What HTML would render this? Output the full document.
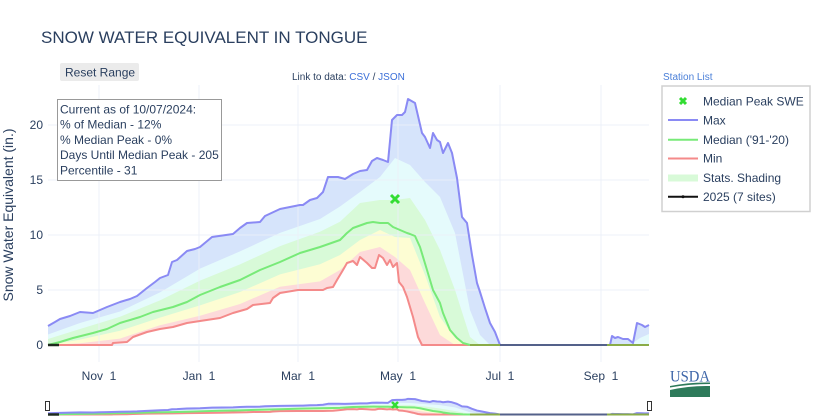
<!DOCTYPE html>
<html><head><meta charset="utf-8"><style>
html,body{margin:0;padding:0;background:#fff;}
svg{display:block;font-family:"Liberation Sans",Arial,sans-serif;}
</style></head><body>
<svg width="816" height="420" viewBox="0 0 816 420" xmlns="http://www.w3.org/2000/svg">
<rect width="816" height="420" fill="#fff"/>
<text x="41" y="43" font-size="17" fill="#2a3f5f">SNOW WATER EQUIVALENT IN TONGUE</text>

<rect x="60" y="63" width="79" height="18" rx="2" fill="#ebebeb"/>
<text x="65" y="76.5" font-size="12" fill="#2a3f5f">Reset Range</text>

<text x="292" y="80" font-size="10" fill="#2a3f5f">Link to data: <tspan fill="#3b6fd8">CSV</tspan> / <tspan fill="#3b6fd8">JSON</tspan></text>
<text x="663" y="80" font-size="10" fill="#4a7fd8">Station List</text>

<g id="data">
<path fill="#d6e4fb" d="M48,345 L48,326 55,322 60,319 70,316 80,312 93,313 100,310 107,307 120,302 130,299 137,296 147,288 155,282 160,278 168,275 172,262 177,260 187,251 195,249 200,247 212,237 233,234 240,228 247,223 260,222 265,216 280,209 300,205 303,205 310,200 317,198 323,192 328,177 338,177 345,179 353,174 360,171 367,170 372,161 377,158 383,160 388,162 392,120 397,115 402,115 405,112 408,99 415,103 422,133 425,137 430,148 433,133 437,140 440,142 443,153 448,143 452,153 457,178 462,217 467,223 472,255 477,283 480,292 485,308 490,323 495,332 500,345 606,345 610,345 612,336 615,338 618,337 623,339 628,339 633,343 637,323 642,325 645,327 649,325 L649,345 Z"/>
<path fill="#e5fbfc" d="M48,345 L48,334.5 80,323 120,311.5 160,292.4 200,268.6 240,251.4 280,232.9 320,219 340,206.5 360,192 380,177 395,158 410,165 425,182 440,197 455,233 470,310 480,335 490,345 630,345 640,338 649,334 L649,345 Z"/>
<path fill="#d8fad8" d="M48,345 L48,339 80,329 120,316.7 160,300.4 200,280.6 240,264.4 280,246.1 320,231.7 340,221.7 360,203 380,200 395,200 410,198 425,220 440,250 455,290 470,337 480,345 L649,345 Z"/>
<path fill="#fdfdd3" d="M48,345 L80,339.6 120,330.8 160,317.6 200,305.4 240,292 280,274.4 320,264.2 340,255 360,240 380,230 395,237 410,238 425,275 440,317 455,338 470,345 L649,345 Z"/>
<path fill="#fddada" d="M48,345 L80,343.2 120,338.6 160,325.2 200,315.8 240,304 280,286.8 320,281.4 340,270 360,252 380,247 395,257 410,270 425,303 440,335 455,345 L649,345 Z"/>
<path fill="#fff" d="M48,345 L112,345 113,343 127,342 133,337 147,332 160,329 173,327 187,323 200,321 220,318 233,313 247,309 253,305 270,303 273,298 280,293 298,290 323,290 327,288 333,287 337,280 343,270 347,263 353,261 357,265 360,257 367,263 372,268 375,268 379,255 383,258 387,265 390,260 393,267 397,263 399,282 403,287 407,297 413,317 418,337 422,345 L649,345 Z"/>
</g>

<g stroke="#ebf0f8" stroke-width="1" fill="none" opacity="0.9">
<path d="M48,125H649M48,180H649M48,235H649M48,290H649"/>
<path d="M99,85V362M199,85V362M298,85V362M398,85V362M500,85V362M601,85V362"/>
</g>
<path d="M48,345H649" stroke="#ebf0f8" stroke-width="2"/>

<g id="lines" fill="none" stroke-width="2" stroke-linejoin="round">
<polyline vector-effect="non-scaling-stroke" stroke="#f48a8a" points="48,345 112,345 113,343 127,342 133,337 147,332 160,329 173,327 187,323 200,321 220,318 233,313 247,309 253,305 270,303 273,298 280,293 298,290 323,290 327,288 333,287 337,280 343,270 347,263 353,261 357,265 360,257 367,263 372,268 375,268 379,255 383,258 387,265 390,260 393,267 397,263 399,282 403,287 407,297 413,317 418,337 422,345 470,345"/>
<polyline vector-effect="non-scaling-stroke" stroke="#78ea78" points="48,345 60,342 73,338 93,333 107,329 120,323 140,317 153,312 173,307 187,302 200,295 220,287 240,280 260,270 280,262 300,253 320,247 340,240 347,233 353,228 367,223 373,222 380,223 388,223 393,227 400,230 407,233 410,234 415,236 420,247 427,270 433,290 440,303 443,313 450,330 457,338 463,343 470,345"/>
<polyline vector-effect="non-scaling-stroke" stroke="#8a8af4" points="48,326 55,322 60,319 70,316 80,312 93,313 100,310 107,307 120,302 130,299 137,296 147,288 155,282 160,278 168,275 172,262 177,260 187,251 195,249 200,247 212,237 233,234 240,228 247,223 260,222 265,216 280,209 300,205 303,205 310,200 317,198 323,192 328,177 338,177 345,179 353,174 360,171 367,170 372,161 377,158 383,160 388,162 392,120 397,115 402,115 405,112 408,99 415,103 422,133 425,137 430,148 433,133 437,140 440,142 443,153 448,143 452,153 457,178 462,217 467,223 472,255 477,283 480,292 485,308 490,323 495,332 500,345"/>
<polyline vector-effect="non-scaling-stroke" stroke="#8a8af4" points="606,345 610,345 612,336 615,338 618,337 623,339 628,339 633,343 637,323 642,325 645,327 649,325"/>
<path vector-effect="non-scaling-stroke" stroke="#8aac48" d="M470,345H649"/>
<path vector-effect="non-scaling-stroke" stroke="#54618a" d="M500,345H607"/>
<path vector-effect="non-scaling-stroke" stroke="#1e2a1e" stroke-width="2.5" d="M48,345H59"/>
</g>

<path d="M391,195L399,203M391,203L399,195" stroke="#33dd33" stroke-width="3"/>

<!-- y ticks -->
<g font-size="12" fill="#2a3f5f" text-anchor="end">
<text x="43" y="349">0</text>
<text x="43" y="294">5</text>
<text x="43" y="239">10</text>
<text x="43" y="184">15</text>
<text x="43" y="129">20</text>
</g>
<text transform="translate(13,215) rotate(-90)" font-size="14" fill="#2a3f5f" text-anchor="middle">Snow Water Equivalent (in.)</text>

<!-- x ticks -->
<g font-size="12" fill="#2a3f5f" text-anchor="middle">
<text x="99" y="380">Nov&#160;&#160;1</text>
<text x="199" y="380">Jan&#160;&#160;1</text>
<text x="298" y="380">Mar&#160;&#160;1</text>
<text x="398" y="380">May&#160;&#160;1</text>
<text x="500" y="380">Jul&#160;&#160;1</text>
<text x="601" y="380">Sep&#160;&#160;1</text>
</g>

<!-- info box -->
<rect x="57.5" y="99.5" width="164" height="81" fill="#fff" stroke="#999" stroke-width="1"/>
<g font-size="12" fill="#2a3f5f">
<text x="60" y="113.5">Current as of 10/07/2024:</text>
<text x="60" y="128.7">% of Median - 12%</text>
<text x="60" y="143.9">% Median Peak - 0%</text>
<text x="60" y="159.1">Days Until Median Peak - 205</text>
<text x="60" y="174.3">Percentile - 31</text>
</g>

<!-- legend -->
<rect x="662" y="86" width="148" height="125.5" fill="#fff" stroke="#d0d0d0" stroke-width="1.5"/>
<path d="M680,98L686,104M680,104L686,98" stroke="#33dd33" stroke-width="3"/>
<path d="M668,120H698" stroke="#8a8af4" stroke-width="2"/>
<path d="M668,139.7H698" stroke="#78ea78" stroke-width="2"/>
<path d="M668,158.5H698" stroke="#f48a8a" stroke-width="2"/>
<rect x="668" y="174.5" width="30" height="7" fill="#d8fad8"/>
<path d="M668,196.7H698" stroke="#111" stroke-width="2"/>
<circle cx="683" cy="196.7" r="1.5" fill="#111"/>
<g font-size="12" fill="#2a3f5f">
<text x="703" y="105.3">Median Peak SWE</text>
<text x="703" y="124.3">Max</text>
<text x="703" y="144">Median ('91-'20)</text>
<text x="703" y="162.5">Min</text>
<text x="703" y="182">Stats. Shading</text>
<text x="703" y="201">2025 (7 sites)</text>
</g>

<!-- range slider -->
<use href="#data" transform="matrix(1,0,0,0.0636,0,392.55)"/>
<use href="#lines" transform="matrix(1,0,0,0.0636,0,392.55)"/>
<path d="M392,402L398,408M392,408L398,402" stroke="#33dd33" stroke-width="2.5"/>
<rect x="45.5" y="401.5" width="4" height="9" fill="#fff" stroke="#333" stroke-width="1"/>
<rect x="647.5" y="401.5" width="4" height="9" fill="#fff" stroke="#333" stroke-width="1"/>

<!-- USDA logo -->
<text x="670" y="381.5" font-family="Liberation Serif, serif" font-size="16" fill="#3d65a8" textLength="40" lengthAdjust="spacingAndGlyphs">USDA</text>
<path d="M670,386 Q690,382 710,382.5 L710,384 Q690,384 670,387.5 Z" fill="#2e7a5a"/>
<path d="M670,390 Q690,385.5 710,386 L710,397 L670,397 Z" fill="#2e7a5a"/>
</svg>
</body></html>
